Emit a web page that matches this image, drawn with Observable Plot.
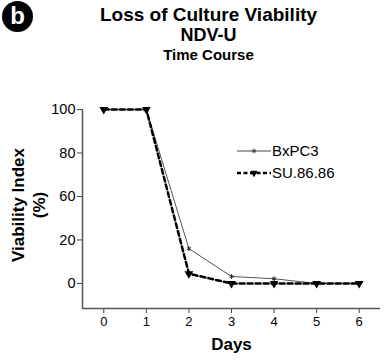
<!DOCTYPE html>
<html>
<head>
<meta charset="utf-8">
<script src="https://cdn.jsdelivr.net/npm/d3@7"></script>
<script src="https://cdn.jsdelivr.net/npm/@observablehq/plot@0.6"></script>
<style>
  body { margin: 0; background: #fff; }
  #wrap { position: relative; width: 384px; height: 361px; font-family: "Liberation Sans", Arial, sans-serif; }
  .t { position: absolute; left: 0; width: 417px; text-align: center; font-weight: bold; color: #000; white-space: nowrap; }
  #badge { position: absolute; left: 2px; top: 1px; width: 31px; height: 31px; border-radius: 50%; background: #000; color: #fff;
           font: bold 24px "Liberation Sans", Arial, sans-serif; text-align: center; line-height: 29px; }
  #legend { position: absolute; left: 0; top: 0; }
</style>
</head>
<body>
<div id="wrap">
  <div id="badge">b</div>
  <div class="t" style="top:4px;font-size:19px;">Loss of Culture Viability</div>
  <div class="t" style="top:25px;font-size:18px;">NDV-U</div>
  <div class="t" style="top:46px;font-size:15px;">Time Course</div>
</div>
<script>
const days = [0, 1, 2, 3, 4, 5, 6];
const bxpc3 = [100, 100, 20, 4, 2.7, 0, 0];
const su8686 = [100, 100, 5.6, 0, 0, 0, 0];
const seriesNames = ["BxPC3", "SU.86.86"];
const yTicks = [0, 25, 50, 75, 100];
const yTickLabels = ["0", "20", "60", "80", "100"];

const rows1 = days.map((d, i) => ({day: d, v: bxpc3[i]}));
const rows2 = days.map((d, i) => ({day: d, v: su8686[i]}));
const yFmt = (d) => yTickLabels[yTicks.indexOf(d)];

const chart = Plot.plot({
  width: 384,
  height: 361,
  marginLeft: 82,
  marginRight: 4,
  marginTop: 109,
  marginBottom: 53,
  style: {fontFamily: "'Liberation Sans', Arial, sans-serif", fontSize: "13px", color: "#000", background: "transparent"},
  x: {domain: [-0.5, 6.5], label: null},
  y: {domain: [-14.4, 100], label: null},
  marks: [
    Plot.axisX({ticks: days, tickFormat: d3.format("d"), tickSize: 5, tickPadding: 3, fontSize: 13, stroke: "#444"}),
    Plot.axisY({ticks: yTicks, tickFormat: yFmt, tickSize: 5, tickPadding: 2, fontSize: 14.5, stroke: "#444"}),
    Plot.ruleY([-14.4], {stroke: "#555", strokeWidth: 1.5}),
    Plot.ruleX([-0.5], {y1: -14.4, y2: 100, stroke: "#555", strokeWidth: 1.5}),
    Plot.line(rows1, {x: "day", y: "v", stroke: "#555", strokeWidth: 1}),
    Plot.dot(rows1, {x: "day", y: "v", symbol: "asterisk", r: 2.2, stroke: "#222", strokeWidth: 1}),
    Plot.line(rows2, {x: "day", y: "v", stroke: "#000", strokeWidth: 2.5, strokeDasharray: "5,3"}),
    Plot.dot(rows2, {x: "day", y: "v", symbol: "triangle", rotate: 180, r: 2.3, fill: "#000", stroke: "#000"}),
    Plot.text(["Days"], {frameAnchor: "bottom", dy: 41, fontSize: 17, fontWeight: "bold", fill: "#000"}),
    Plot.text(["Viability Index"], {frameAnchor: "left", textAnchor: "middle", dx: -64, dy: -4, rotate: -90, fontSize: 17, fontWeight: "bold", fill: "#000"}),
    Plot.text(["(%)"], {frameAnchor: "left", textAnchor: "middle", dx: -43, dy: -4, rotate: -90, fontSize: 17, fontWeight: "bold", fill: "#000"})
  ]
});
chart.style.position = "absolute";
chart.style.left = "0px";
chart.style.top = "0px";
document.getElementById("wrap").appendChild(chart);

// legend
const lg = d3.select("#wrap").append("svg").attr("id", "legend").attr("width", 384).attr("height", 361);
const styles = [
  {stroke: "#444", width: 1, dash: null, sym: d3.symbolAsterisk, fill: "none", size: 16},
  {stroke: "#000", width: 2.5, dash: "4,2.5", sym: d3.symbolTriangle, fill: "#000", size: 16}
];
seriesNames.forEach((name, i) => {
  const g = lg.append("g").attr("transform", `translate(237,${151 + i * 22})`);
  g.append("line").attr("x1", 0).attr("x2", 34).attr("y1", 0).attr("y2", 0)
    .attr("stroke", styles[i].stroke).attr("stroke-width", styles[i].width).attr("stroke-dasharray", styles[i].dash);
  g.append("path").attr("d", d3.symbol(styles[i].sym, styles[i].size)())
    .attr("transform", `translate(17,0) rotate(${i === 1 ? 180 : 0})`)
    .attr("fill", styles[i].fill).attr("stroke", styles[i].stroke).attr("stroke-width", 1);
  g.append("text").attr("x", 35).attr("y", 0).attr("dy", "0.35em")
    .attr("font-size", 15).attr("font-family", "'Liberation Sans', Arial, sans-serif").text(name);
});
</script>
</body>
</html>
